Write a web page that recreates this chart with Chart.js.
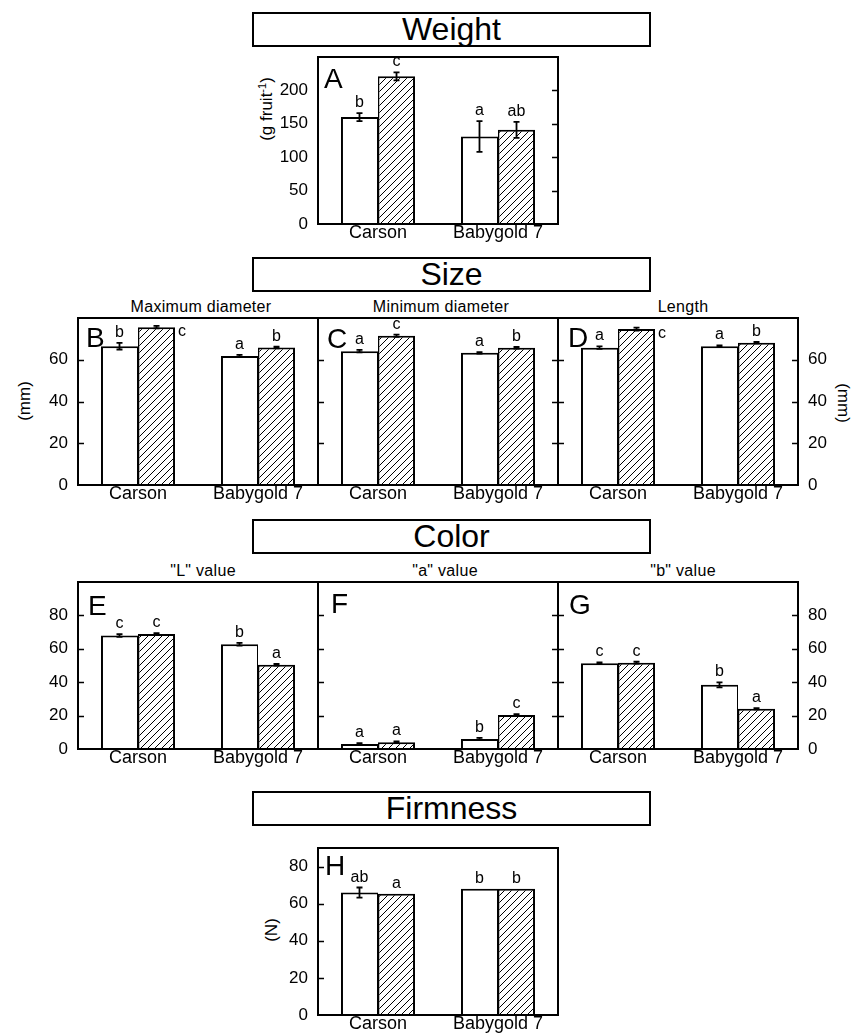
<!DOCTYPE html>
<html><head><meta charset="utf-8">
<script src="https://cdn.jsdelivr.net/npm/chart.js@4.4.1/dist/chart.umd.min.js"></script>
<style>
html,body{margin:0;padding:0;background:#fff;overflow:hidden;}
#fig{position:relative;width:854px;height:1034px;font-family:"Liberation Sans",Arial,Helvetica,sans-serif;color:#000;overflow:hidden;}
.box{position:absolute;left:252px;width:395px;height:31px;border:2px solid #000;font-size:32px;line-height:31px;text-align:center;}
.sub{position:absolute;font-size:16px;line-height:16px;letter-spacing:0.3px;white-space:nowrap;transform:translate(-50%,-50%);}
.yt{position:absolute;font-size:17px;line-height:17px;white-space:nowrap;transform:translate(-50%,-50%) rotate(-90deg);}
.yr{position:absolute;font-size:17px;line-height:17px;white-space:nowrap;transform:translate(-50%,-50%) rotate(90deg);}
sup{font-size:11px;vertical-align:6px;line-height:0;}
canvas{position:absolute;}
</style>
</head>
<body>
<div id="fig">
  <div class="box" style="top:12px">Weight</div>
  <div class="box" style="top:257px">Size</div>
  <div class="box" style="top:519px">Color</div>
  <div class="box" style="top:791px">Firmness</div>

  <div class="sub" style="left:201px;top:307px">Maximum diameter</div>
  <div class="sub" style="left:441px;top:307px">Minimum diameter</div>
  <div class="sub" style="left:683px;top:307px">Length</div>
  <div class="sub" style="left:203px;top:571px">"L" value</div>
  <div class="sub" style="left:445px;top:571px">"a" value</div>
  <div class="sub" style="left:683px;top:571px">"b" value</div>

  <div class="yt" style="left:266px;top:109px">(g fruit<sup>-1</sup>)</div>
  <div class="yt" style="left:24px;top:401px">(mm)</div>
  <div class="yr" style="left:843px;top:403px">(mm)</div>
  <div class="yt" style="left:271px;top:930px">(N)</div>
</div>
<script>
const categories = ['Carson', 'Babygold 7'];

// tick labels
const weightTicks = [0, 50, 100, 150, 200];
const sizeTicks = [0, 20, 40, 60];
const colorTicks = [0, 20, 40, 60, 80];
const firmTicks = [0, 20, 40, 60, 80];

// A - Weight (g fruit-1)
const weightPlain = [160, 131];
const weightHatched = [221, 141];
const weightPlainErr = [6, 23];
const weightHatchedErr = [6, 12];
const weightPlainLetters = ['b', 'a'];
const weightHatchedLetters = ['c', 'ab'];

// B - Maximum diameter (mm)
const maxDiamPlain = [66.5, 61.8];
const maxDiamHatched = [75.6, 65.9];
const maxDiamPlainErr = [1.6, 0.5];
const maxDiamHatchedErr = [0.6, 0.4];
const maxDiamPlainLetters = ['b', 'a'];
const maxDiamHatchedLetters = ['c', 'b'];

// C - Minimum diameter (mm)
const minDiamPlain = [64.1, 63.3];
const minDiamHatched = [71.5, 65.7];
const minDiamPlainErr = [0.6, 0.4];
const minDiamHatchedErr = [0.5, 0.4];
const minDiamPlainLetters = ['a', 'a'];
const minDiamHatchedLetters = ['c', 'b'];

// D - Length (mm)
const lengthPlain = [65.8, 66.5];
const lengthHatched = [74.7, 68.2];
const lengthPlainErr = [0.6, 0.4];
const lengthHatchedErr = [0.7, 0.3];
const lengthPlainLetters = ['a', 'a'];
const lengthHatchedLetters = ['c', 'b'];

// E - "L" value
const lValPlain = [67.9, 62.7];
const lValHatched = [68.8, 50.4];
const lValPlainErr = [0.8, 0.8];
const lValHatchedErr = [0.6, 0.5];
const lValPlainLetters = ['c', 'b'];
const lValHatchedLetters = ['c', 'a'];

// F - "a" value
const aValPlain = [3.0, 6.0];
const aValHatched = [4.0, 20.3];
const aValPlainErr = [0.5, 0.7];
const aValHatchedErr = [0.5, 0.6];
const aValPlainLetters = ['a', 'b'];
const aValHatchedLetters = ['a', 'c'];

// G - "b" value
const bValPlain = [51.3, 38.4];
const bValHatched = [51.7, 24.1];
const bValPlainErr = [0.5, 1.5];
const bValHatchedErr = [0.6, 0.4];
const bValPlainLetters = ['c', 'b'];
const bValHatchedLetters = ['c', 'a'];

// H - Firmness (N)
const firmPlain = [66.0, 68.0];
const firmHatched = [65.4, 68.0];
const firmPlainErr = [2.7, 0];
const firmHatchedErr = [0, 0];
const firmPlainLetters = ['ab', 'b'];
const firmHatchedLetters = ['a', 'b'];

const FONT = '"Liberation Sans", Arial, Helvetica, sans-serif';
Chart.defaults.font.family = FONT;
Chart.defaults.color = '#000';

function makeHatch() {
  const s = 7;
  const c = document.createElement('canvas');
  c.width = s; c.height = s;
  const g = c.getContext('2d');
  g.fillStyle = '#fff'; g.fillRect(0, 0, s, s);
  g.strokeStyle = '#000'; g.lineWidth = 1;
  g.beginPath();
  g.moveTo(-1, s + 1); g.lineTo(s + 1, -1);
  g.moveTo(-1, 1); g.lineTo(1, -1);
  g.moveTo(s - 1, s + 1); g.lineTo(s + 1, s - 1);
  g.stroke();
  return g.createPattern(c, 'repeat');
}
const hatch = makeHatch();

const panels = [
  {tag:'A', l:318, t:57,  max:250, ticks:weightTicks, side:'left',  tickL:false, tickR:true,
   plain:weightPlain, hatched:weightHatched, pErr:weightPlainErr, hErr:weightHatchedErr,
   pLet:weightPlainLetters, hLet:weightHatchedLetters, tagPos:[6,31]},
  {tag:'B', l:78,  t:318, max:80, ticks:sizeTicks, side:'left', tickL:true, tickR:false,
   plain:maxDiamPlain, hatched:maxDiamHatched, pErr:maxDiamPlainErr, hErr:maxDiamHatchedErr,
   pLet:maxDiamPlainLetters, hLet:maxDiamHatchedLetters, tagPos:[8,29], sideLetter:[1,0]},
  {tag:'C', l:318, t:318, max:80, ticks:sizeTicks, side:'none', tickL:true, tickR:true,
   plain:minDiamPlain, hatched:minDiamHatched, pErr:minDiamPlainErr, hErr:minDiamHatchedErr,
   pLet:minDiamPlainLetters, hLet:minDiamHatchedLetters, tagPos:[9,30]},
  {tag:'D', l:558, t:318, max:80, ticks:sizeTicks, side:'right', tickL:true, tickR:true,
   plain:lengthPlain, hatched:lengthHatched, pErr:lengthPlainErr, hErr:lengthHatchedErr,
   pLet:lengthPlainLetters, hLet:lengthHatchedLetters, tagPos:[10,29], sideLetter:[1,0]},
  {tag:'E', l:78,  t:582, max:100, ticks:colorTicks, side:'left', tickL:true, tickR:false,
   plain:lValPlain, hatched:lValHatched, pErr:lValPlainErr, hErr:lValHatchedErr,
   pLet:lValPlainLetters, hLet:lValHatchedLetters, tagPos:[10,33]},
  {tag:'F', l:318, t:582, max:100, ticks:colorTicks, side:'none', tickL:true, tickR:true,
   plain:aValPlain, hatched:aValHatched, pErr:aValPlainErr, hErr:aValHatchedErr,
   pLet:aValPlainLetters, hLet:aValHatchedLetters, tagPos:[13,31]},
  {tag:'G', l:558, t:582, max:100, ticks:colorTicks, side:'right', tickL:true, tickR:true,
   plain:bValPlain, hatched:bValHatched, pErr:bValPlainErr, hErr:bValHatchedErr,
   pLet:bValPlainLetters, hLet:bValHatchedLetters, tagPos:[11,32]},
  {tag:'H', l:318, t:848, max:90, ticks:firmTicks, side:'left', tickL:true, tickR:false,
   plain:firmPlain, hatched:firmHatched, pErr:firmPlainErr, hErr:firmHatchedErr,
   pLet:firmPlainLetters, hLet:firmHatchedLetters, tagPos:[7,27]}
];

function makeAnnot(p) {
  return {
    id: 'annot' + p.tag,
    afterDatasetsDraw(chart) {
      const ctx = chart.ctx, a = chart.chartArea, y = chart.scales.y;
      ctx.save();
      ctx.strokeStyle = '#000'; ctx.fillStyle = '#000';
      // inward tick marks
      ctx.lineWidth = 1.5;
      ctx.beginPath();
      p.ticks.forEach(v => {
        if (v === 0) return;
        const py = Math.round(y.getPixelForValue(v)) + 0.5;
        if (p.tickL) { ctx.moveTo(a.left, py); ctx.lineTo(a.left + 6, py); }
        if (p.tickR) { ctx.moveTo(a.right - 6, py); ctx.lineTo(a.right, py); }
      });
      ctx.stroke();
      // error bars + letters
      const errs = [p.pErr, p.hErr], lets = [p.pLet, p.hLet];
      chart.data.datasets.forEach((ds, di) => {
        chart.getDatasetMeta(di).data.forEach((bar, i) => {
          const v = ds.data[i], e = errs[di][i];
          const yt = y.getPixelForValue(v + e), yb = y.getPixelForValue(v - e);
          if (e > 0) {
            ctx.lineWidth = 1.8;
            ctx.beginPath();
            ctx.moveTo(bar.x, yt); ctx.lineTo(bar.x, yb);
            ctx.moveTo(bar.x - 3, yt); ctx.lineTo(bar.x + 3, yt);
            ctx.moveTo(bar.x - 3, yb); ctx.lineTo(bar.x + 3, yb);
            ctx.stroke();
          }
          ctx.font = '16px ' + FONT;
          ctx.textBaseline = 'alphabetic';
          if (p.sideLetter && p.sideLetter[0] === di && p.sideLetter[1] === i) {
            ctx.textAlign = 'left';
            ctx.fillText(lets[di][i], bar.x + bar.width / 2 + 3, bar.y + 9);
          } else {
            ctx.textAlign = 'center';
            ctx.fillText(lets[di][i], bar.x, yt - 6);
          }
        });
      });
      // frame
      ctx.lineWidth = 2;
      ctx.strokeRect(a.left, a.top, a.right - a.left, a.bottom - a.top);
      // panel tag
      ctx.font = '28px ' + FONT;
      ctx.textAlign = 'left'; ctx.textBaseline = 'alphabetic';
      ctx.fillText(p.tag, a.left + p.tagPos[0], a.top + p.tagPos[1]);
      ctx.restore();
    }
  };
}

const fig = document.getElementById('fig');
function build(p) {
  const W = 240, H = 167, XH = 24;
  const PAD = {left: 4, right: 4, top: 4, bottom: 2};
  const lw = p.side === 'left' ? 50 : 0;
  const rw = p.side === 'right' ? 45 : 0;
  const cw = PAD.left + lw + W + rw + PAD.right;
  const ch = PAD.top + H + XH + PAD.bottom;
  const cv = document.createElement('canvas');
  cv.width = cw; cv.height = ch;
  cv.style.left = (p.l - PAD.left - lw) + 'px';
  cv.style.top = (p.t - PAD.top) + 'px';
  cv.style.width = cw + 'px'; cv.style.height = ch + 'px';
  fig.appendChild(cv);
  new Chart(cv, {
    type: 'bar',
    data: {
      labels: categories,
      datasets: [
        {data: p.plain, backgroundColor: '#fff', borderColor: '#000',
         borderWidth: {left: 2, top: 2, right: 1, bottom: 0}, borderSkipped: 'start'},
        {data: p.hatched, backgroundColor: hatch, borderColor: '#000',
         borderWidth: {left: 1.5, top: 2, right: 2, bottom: 0}, borderSkipped: 'start'}
      ]
    },
    options: {
      responsive: false, animation: false, devicePixelRatio: 1,
      layout: {padding: PAD},
      datasets: {bar: {barPercentage: 1, categoryPercentage: 0.617}},
      plugins: {legend: {display: false}, tooltip: {enabled: false}},
      scales: {
        x: {
          type: 'category', offset: true,
          grid: {display: false, drawTicks: false}, border: {display: false},
          ticks: {padding: 0, color: '#000', font: {size: 18, lineHeight: 1}, maxRotation: 0, autoSkip: false},
          afterFit: ax => { ax.height = XH; ax.paddingLeft = 0; ax.paddingRight = 0; }
        },
        y: {
          type: 'linear', position: p.side === 'right' ? 'right' : 'left',
          min: 0, max: p.max,
          afterBuildTicks: ax => { ax.ticks = p.ticks.map(v => ({value: v})); },
          grid: {display: false, drawTicks: false}, border: {display: false},
          ticks: {display: p.side !== 'none', padding: 10, color: '#000', font: {size: 17}},
          afterFit: ax => { ax.width = p.side === 'right' ? rw : lw; ax.paddingTop = 0; ax.paddingBottom = 0; }
        }
      }
    },
    plugins: [makeAnnot(p)]
  });
}
panels.forEach(build);
</script>
</body></html>
